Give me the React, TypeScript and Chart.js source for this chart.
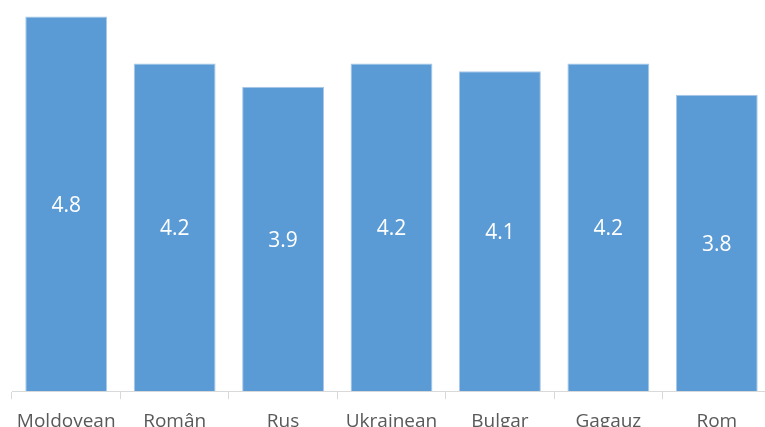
import React, { useEffect, useRef } from "react";
import { Chart, registerables } from "chart.js";

Chart.register(...registerables);

const categories = ["Moldovean", "Român", "Rus", "Ukrainean", "Bulgar", "Gagauz", "Rom"];
const values = [4.8, 4.2, 3.9, 4.2, 4.1, 4.2, 3.8];

const valueLabels = {
  id: "valueLabels",
  afterDatasetsDraw(chart: any) {
    const ctx = chart.ctx;
    const meta = chart.getDatasetMeta(0);
    ctx.save();
    ctx.fillStyle = "#ffffff";
    ctx.font = "21px 'Open Sans', sans-serif";
    ctx.textAlign = "center";
    ctx.textBaseline = "middle";
    meta.data.forEach((el: any, i: number) => {
      const { x, y, base } = el.getProps(["x", "y", "base"], true);
      ctx.fillText(values[i].toFixed(1), x, (y + base) / 2 + 2);
    });
    ctx.restore();
  },
};

export default function App() {
  const ref = useRef<HTMLCanvasElement>(null);
  useEffect(() => {
    const chart = new Chart(ref.current!, {
      type: "bar",
      data: {
        labels: categories,
        datasets: [
          {
            data: values,
            backgroundColor: "#5B9BD5",
            borderColor: "#A9C8E8",
            borderWidth: 1,
            categoryPercentage: 1,
            barPercentage: 0.755,
          },
        ],
      },
      options: {
        responsive: false,
        animation: false,
        layout: { padding: { left: 12, right: 19, top: 1, bottom: 0 } },
        plugins: { legend: { display: false }, tooltip: { enabled: false } },
        scales: {
          x: {
            grid: {
              drawOnChartArea: false,
              drawTicks: true,
              tickLength: 8,
              color: "#D9D9D9",
              offset: true,
            },
            border: { color: "#D9D9D9", width: 1 },
            ticks: {
              color: "#595959",
              font: { family: "'Open Sans', sans-serif", size: 19 },
              padding: 11,
              maxRotation: 0,
              autoSkip: false,
            },
          },
          y: { display: false, min: 0, max: 5 },
        },
      },
      plugins: [valueLabels],
    });
    return () => chart.destroy();
  }, []);
  return (
    <div style={{ position: "fixed", left: 0, top: 0, width: 765, height: 427, overflow: "hidden", background: "#fff" }}>
      <canvas ref={ref} width={790} height={444} style={{ display: "block" }} />
    </div>
  );
}
